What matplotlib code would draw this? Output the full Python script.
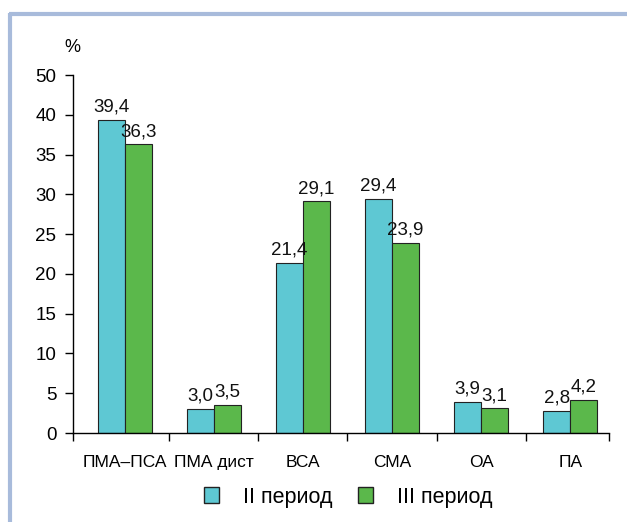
import matplotlib
matplotlib.use("Agg")
import matplotlib.pyplot as plt
from matplotlib.lines import Line2D
from matplotlib.patches import Rectangle
import numpy as np

plt.rcParams['font.family'] = ['Liberation Sans', 'DejaVu Sans']

categories = ["ПМА–ПСА", "ПМА дист", "ВСА", "СМА", "ОА", "ПА"]
period2 = [39.4, 3.0, 21.4, 29.4, 3.9, 2.8]
period3 = [36.3, 3.5, 29.1, 23.9, 3.1, 4.2]
series_names = ["II период", "III период"]
ytick_values = [0, 5, 10, 15, 20, 25, 30, 35, 40, 45]
ytick_labels = ["0", "5", "10", "15", "20", "25", "30", "35", "40", "50"]

c2 = "#5ec8d3"
c3 = "#5bb84b"
edge = "#222222"
frame_col = "#a8bbdb"

fig = plt.figure(figsize=(6.27, 5.22), dpi=100)
ax = fig.add_axes([73 / 627, 1 - 433 / 522, 536 / 627, 358 / 522])

n = len(categories)
x = np.arange(n)
w = 0.303
x_lo, x_hi = -0.58, n - 0.565
b2 = ax.bar(x - w / 2, period2, w, color=c2, edgecolor=edge, linewidth=0.8)
b3 = ax.bar(x + w / 2, period3, w, color=c3, edgecolor=edge, linewidth=0.8)

def fmt(v):
    return f"{v:.1f}".replace(".", ",")

for bars, vals in ((b2, period2), (b3, period3)):
    for rect, v in zip(bars, vals):
        ax.annotate(fmt(v), (rect.get_x() + rect.get_width() / 2, v),
                    xytext=(0, 3), textcoords="offset points",
                    ha="center", va="bottom", fontsize=13.5, color="#111111")

ax.set_xlim(x_lo, x_hi)
ax.set_ylim(0, 45)
ax.set_yticks(ytick_values)
ax.set_yticklabels(ytick_labels, fontsize=13.5)
ax.set_xticks([x_lo] + list(np.arange(n - 1) + 0.5) + [x_hi])
ax.set_xticklabels([])
ax.set_xticks(x, minor=True)
ax.set_xticklabels(categories, minor=True, fontsize=12.5)
ax.tick_params(axis="x", which="minor", length=0, pad=16)
ax.tick_params(axis="x", which="major", length=6, width=1, direction="out")
ax.tick_params(axis="y", length=6, width=1, direction="out", pad=6)
for s in ("top", "right"):
    ax.spines[s].set_visible(False)
for s in ("left", "bottom"):
    ax.spines[s].set_linewidth(1)

fig.text(72 / 627, 1 - 48 / 522, "%", ha="center", va="center", fontsize=13)

handles = [Rectangle((0, 0), 1, 1, facecolor=c2, edgecolor=edge, linewidth=1),
           Rectangle((0, 0), 1, 1, facecolor=c3, edgecolor=edge, linewidth=1)]
fig.legend(handles, series_names, loc="center", bbox_to_anchor=(348 / 627, 1 - 497 / 522),
           ncol=2, frameon=False, fontsize=15.5, handlelength=0.7, handleheight=0.7,
           columnspacing=1.2, handletextpad=1.1, borderpad=0, borderaxespad=0)

# decorative frame along the left and top edges
fig.add_artist(Line2D([10 / 627, 10 / 627], [0, 1 - 13 / 522], transform=fig.transFigure,
                      color=frame_col, linewidth=3, solid_capstyle="butt"))
fig.add_artist(Line2D([8.5 / 627, 1], [1 - 14 / 522, 1 - 14 / 522], transform=fig.transFigure,
                      color=frame_col, linewidth=3, solid_capstyle="butt"))

fig.savefig("out.png", dpi=100)
